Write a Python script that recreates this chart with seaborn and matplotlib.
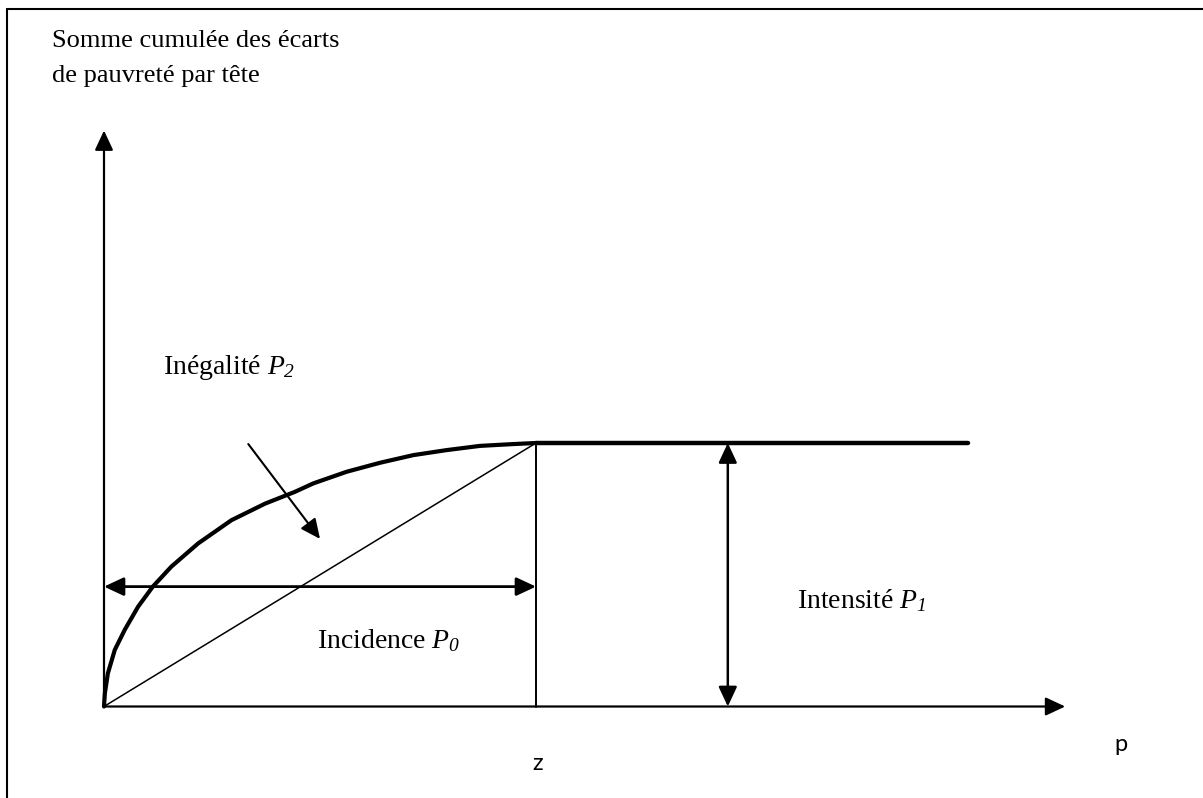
import numpy as np
import matplotlib
matplotlib.use("Agg")
import matplotlib.pyplot as plt
import seaborn as sns
from matplotlib.lines import Line2D

# courbe TIP, p normalise sur z = 1, hauteur normalisee sur le plateau
curve_p = [0, 0.002, 0.009, 0.025, 0.048, 0.079, 0.113, 0.156, 0.218, 0.295,
           0.373, 0.441, 0.485, 0.562, 0.639, 0.716, 0.793, 0.870, 0.948, 1.0]
curve_h = [0, 0.050, 0.126, 0.215, 0.291, 0.379, 0.455, 0.531, 0.619, 0.707,
           0.770, 0.814, 0.847, 0.891, 0.925, 0.954, 0.973, 0.989, 0.996, 1.0]

z_val = 1.0
plateau_p = [1.0, 2.0]
plateau_h = [1.0, 1.0]
diag_p = [0, 1.0]
diag_h = [0, 1.0]

x_axis_end = 2.225
y_axis_end = 2.186
incidence_h = 0.455
intensite_p = 1.444
inegalite_start = (0.334, 0.996)
inegalite_tip = (0.5, 0.636)

ylabel_lines = ["Somme cumulée des écarts", "de pauvreté par tête"]
lbl_inegalite = r"Inégalité $P_2$"
lbl_incidence = r"Incidence $P_0$"
lbl_intensite = r"Intensité $P_1$"

sns.set_style("white")
plt.rcParams["font.family"] = ["Liberation Serif", "DejaVu Serif"]
# en mode math tout est en italique (P et indices)
plt.rcParams["mathtext.fontset"] = "custom"
plt.rcParams["mathtext.rm"] = "Liberation Serif:italic"
plt.rcParams["mathtext.it"] = "Liberation Serif:italic"
plt.rcParams["text.color"] = "black"

fig = plt.figure(figsize=(12.03, 7.98), dpi=100)
ax = fig.add_axes([0, 0, 1, 1])
ax.set_xlim(-104 / 432, (1203 - 104) / 432)
ax.set_ylim(-91.5 / 263.5, (798 - 91.5) / 263.5)
ax.axis("off")

# cadre (gauche + haut)
fig.add_artist(Line2D([7 / 1203, 7 / 1203], [0, 789 / 798], color="black", lw=1.5))
fig.add_artist(Line2D([7 / 1203, 1], [789 / 798, 789 / 798], color="black", lw=1.5))

head = "-|>,head_length=0.6,head_width=0.28"
dhead = "<|-|>,head_length=0.6,head_width=0.28"

# axes
ax.annotate("", xy=(0, y_axis_end), xytext=(0, 0),
            arrowprops=dict(arrowstyle=head, color="black", lw=1.6,
                            mutation_scale=20, shrinkA=0, shrinkB=0))
ax.annotate("", xy=(x_axis_end, 0), xytext=(0, 0),
            arrowprops=dict(arrowstyle=head, color="black", lw=1.6,
                            mutation_scale=20, shrinkA=0, shrinkB=0))

# courbes
sns.lineplot(x=curve_p, y=curve_h, ax=ax, color="black", lw=3, sort=False,
             solid_joinstyle="round", solid_capstyle="round")
sns.lineplot(x=plateau_p, y=plateau_h, ax=ax, color="black", lw=3.2)
sns.lineplot(x=diag_p, y=diag_h, ax=ax, color="black", lw=1.1)
ax.plot([z_val, z_val], [0, 1], color="black", lw=1.4)

# fleches doubles
ax.annotate("", xy=(z_val, incidence_h), xytext=(0, incidence_h),
            arrowprops=dict(arrowstyle=dhead, color="black", lw=2,
                            mutation_scale=20, shrinkA=0, shrinkB=0))
ax.annotate("", xy=(intensite_p, 1), xytext=(intensite_p, 0),
            arrowprops=dict(arrowstyle=dhead, color="black", lw=1.8,
                            mutation_scale=20, shrinkA=0, shrinkB=0))
ax.annotate("", xy=inegalite_tip, xytext=inegalite_start,
            arrowprops=dict(arrowstyle=head, color="black", lw=1.5,
                            mutation_scale=20, shrinkA=0, shrinkB=0))

# textes
fs = 19
ax.text(-0.120, 2.504, ylabel_lines[0], fontsize=fs, va="baseline")
ax.text(-0.120, 2.371, ylabel_lines[1], fontsize=fs, va="baseline")
ax.text(0.136, 1.262, lbl_inegalite, fontsize=20, va="baseline")
ax.text(0.492, 0.222, lbl_incidence, fontsize=20, va="baseline")
ax.text(1.604, 0.374, lbl_intensite, fontsize=20, va="baseline")
ax.text(1.005, -0.215, "z", fontsize=17, family=["Lato", "DejaVu Sans"],
        ha="center", va="center")
ax.text(2.354, -0.145, "p", fontsize=17, family=["Lato", "DejaVu Sans"],
        ha="center", va="center")

fig.savefig("out.png", dpi=100, facecolor="white")
